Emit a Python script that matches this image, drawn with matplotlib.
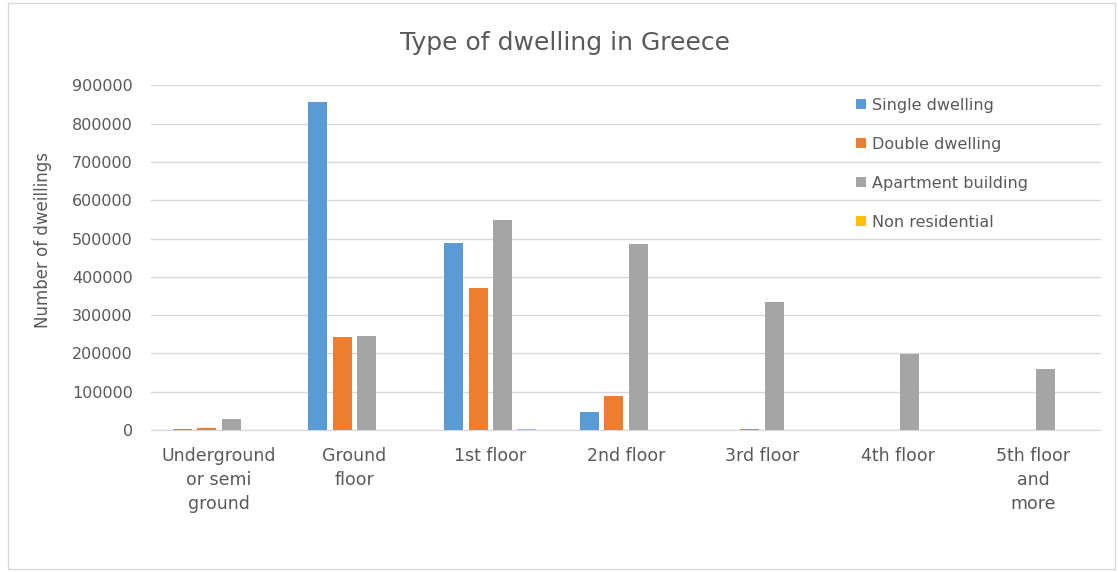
import matplotlib.pyplot as plt
import numpy as np
from matplotlib.patches import Rectangle

categories = ["Underground\nor semi\nground", "Ground\nfloor", "1st floor", "2nd floor",
              "3rd floor", "4th floor", "5th floor\nand\nmore"]
single = [3000, 855000, 488000, 47000, 0, 0, 0]
double = [6000, 243000, 372000, 90000, 3000, 0, 0]
apartment = [28000, 246000, 549000, 486000, 334000, 198000, 159000]
non_residential = [0, 0, 3000, 0, 0, 0, 0]

series = [("Single dwelling", single, "#5B9BD5"),
          ("Double dwelling", double, "#ED7D31"),
          ("Apartment building", apartment, "#A5A5A5"),
          ("Non residential", non_residential, "#FFC000")]

text_color = "#595959"

fig = plt.figure(figsize=(11.18, 5.72), dpi=100)
ax = fig.add_axes([0.135, 0.248, 0.85, 0.603])

x = np.arange(len(categories))
step = 0.18
width = 0.14
for i, (name, vals, color) in enumerate(series):
    ax.bar(x + (i - 1.5) * step, vals, width, color=color, label=name, zorder=3)

ax.set_xlim(-0.5, len(categories) - 0.5)
ax.set_ylim(0, 900000)
ax.set_yticks(np.arange(0, 900001, 100000))
ax.yaxis.grid(True, color="#D9D9D9", linewidth=1, zorder=0)
ax.set_xticks(x)
ax.set_xticklabels(categories, fontsize=12.5, color=text_color, linespacing=1.45)
ax.tick_params(axis="y", labelsize=11.5, colors=text_color, length=0, pad=13)
ax.tick_params(axis="x", length=0, pad=12)
for s in ["top", "right", "left"]:
    ax.spines[s].set_visible(False)
ax.spines["bottom"].set_color("#D9D9D9")

ax.set_ylabel("Number of dweillings", fontsize=12, color=text_color)
ax.yaxis.set_label_coords(-0.104, 0.55)
fig.text(0.505, 0.925, "Type of dwelling in Greece", ha="center", va="center",
         fontsize=18, color=text_color)

ax.legend(loc="upper left", bbox_to_anchor=(0.727, 1.005), frameon=False,
          fontsize=11.5, labelcolor=text_color, handlelength=0.6, handleheight=0.6,
          handletextpad=0.4, labelspacing=1.5)

fig.patches.append(Rectangle((0.007, 0.005), 0.99, 0.99, transform=fig.transFigure,
                             fill=False, edgecolor="#D9D9D9", linewidth=1))

fig.savefig("out.png", dpi=100)
